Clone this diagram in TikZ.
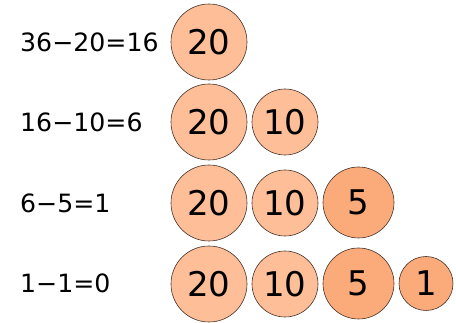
\documentclass[tikz,border=0pt]{standalone}
\usepackage{fontspec}
\setmainfont{DejaVu Sans}
\definecolor{coinA}{RGB}{253,190,152}
\definecolor{coinB}{RGB}{251,170,122}
\definecolor{rim}{RGB}{70,50,40}
\begin{document}
\begin{tikzpicture}[x=1pt,y=-1pt,
  coin/.style={circle,draw=rim,line width=0.6pt,inner sep=0pt,font=\fontsize{34}{34}\selectfont},
  lab/.style={anchor=west,inner sep=0pt,font=\fontsize{25.2}{25.2}\selectfont}]
\useasboundingbox (0,0) rectangle (456,323);
% row 1
\node[lab] (l1) at (20,42) {36−20=16};
\node[coin,fill=coinA,minimum size=76pt] (a1) at (209,42) {20};
% row 2
\node[lab] (l2) at (20,122) {16−10=6};
\node[coin,fill=coinA,minimum size=76pt] (a2) at (209,122) {20};
\node[coin,fill=coinA,minimum size=66pt] (b2) at (285,122) {10};
% row 3
\node[lab] (l3) at (20,203) {6−5=1};
\node[coin,fill=coinA,minimum size=76pt] (a3) at (209,203) {20};
\node[coin,fill=coinA,minimum size=66pt] (b3) at (285,203) {10};
\node[coin,fill=coinB,minimum size=71pt] (c3) at (358.5,202.5) {5};
% row 4
\node[lab] (l4) at (20,283) {1−1=0};
\node[coin,fill=coinA,minimum size=76pt] (a4) at (209,284) {20};
\node[coin,fill=coinA,minimum size=66pt] (b4) at (285,284) {10};
\node[coin,fill=coinB,minimum size=71pt] (c4) at (358.5,283.5) {5};
\node[coin,fill=coinB,minimum size=54pt] (d4) at (426,283.5) {1};
\end{tikzpicture}
\end{document}
